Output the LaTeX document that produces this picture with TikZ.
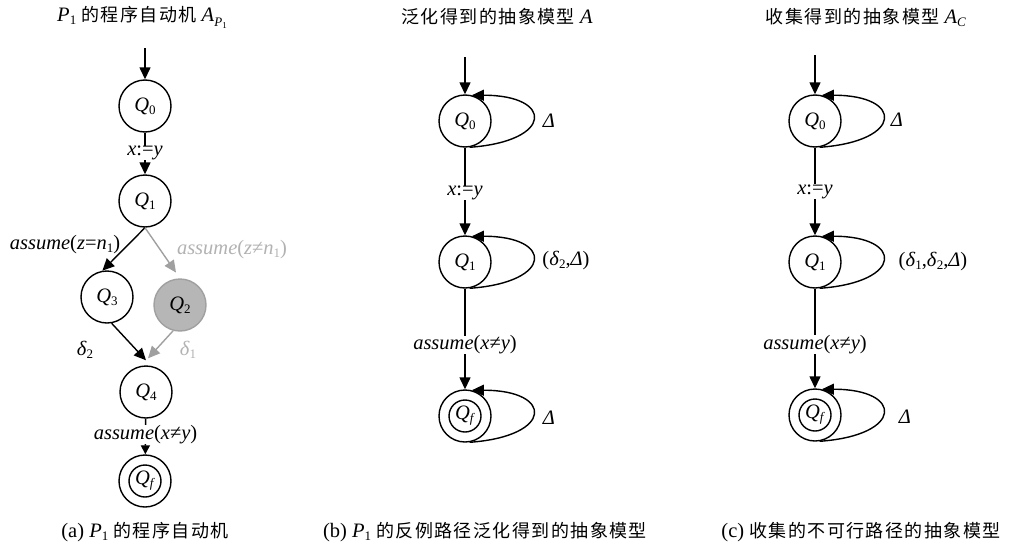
\documentclass[tikz,border=0pt]{standalone}
\usepackage{fontspec}
\setmainfont{Liberation Serif}
\newfontfamily\cjk[LetterSpace=8]{Noto Sans CJK SC}
\usetikzlibrary{arrows.meta,calc}
\newcommand\lo[1]{\raisebox{-3pt}{\fontsize{13}{13}\selectfont #1}}
\newcommand\Qn[1]{\textit{Q}\lo{#1}}
\newcommand\zh[1]{{\cjk\fontsize{18}{20}\selectfont #1}}
\definecolor{gline}{RGB}{160,160,160}
\definecolor{gfill}{RGB}{182,182,182}
\definecolor{gtext}{RGB}{178,178,178}
\begin{document}
\begin{tikzpicture}[x=1pt,y=-1pt,
  every node/.style={font=\fontsize{20.5}{23}\selectfont},
  state/.style={circle,draw,line width=1.4pt,minimum size=52pt,inner sep=0pt,fill=white},
  arr/.style={line width=1.4pt,-{Triangle[length=12pt,width=11pt]}},
  sarr/.style={line width=1.4pt,-{Triangle[length=9pt,width=9pt]}},
  plain/.style={line width=1.4pt},
  lab/.style={fill=white,inner sep=0pt},
  tx/.style={inner sep=0pt},
  grey/.style={draw=gline,text=gtext}]
\useasboundingbox (0,0) rectangle (1018,549);

% ---------------- (a) ----------------
\node[tx] (ta) at (142,17) {\textit{P}\lo{1} \zh{的程序自动机} \textit{A}\raisebox{-5pt}{\fontsize{13}{13}\selectfont\textit{P}\raisebox{-2pt}{\fontsize{9}{9}\selectfont 1}}};
\coordinate (ai) at (145,48);
\node[state] (aQ0) at (145,106) {\Qn{0}};
\node[state] (aQ1) at (145,201) {\Qn{1}};
\node[state] (aQ3) at (107,297) {\Qn{3}};
\node[state,draw=gline,fill=gfill] (aQ2) at (180,305) {\Qn{2}};
\node[state] (aQ4) at (146,392) {\Qn{4}};
\node[state] (aQf) at (145,481) {\Qn{\textit{f}}};
\draw[plain] (aQf.center) circle[radius=16pt];

\draw[arr] (ai) -- (aQ0);
\draw[arr] (aQ0) -- node[lab,pos=0.48] {\textit{x}:=\textit{y}} (aQ1);
\draw[arr] (aQ1.south) -- (aQ3.100);
\draw[arr,draw=gline,shorten >=7pt] (aQ1.south) -- (aQ2.north);
\draw[arr] (aQ3.-80) -- ([yshift=5pt]aQ4.north);
\draw[arr,draw=gline] (aQ2.-105) -- ([xshift=2pt,yshift=7pt]aQ4.north);
\draw[sarr] (aQ4) -- node[lab,pos=0.45] {\textit{assume}(\textit{x}≠\textit{y})} (aQf);

\node[tx] (lz1) at (65,245) {\textit{assume}(\textit{z}=\textit{n}\lo{1})};
\node[tx,text=gtext] (lz2) at (232,250) {\textit{assume}(\textit{z}≠\textit{n}\lo{1})};
\node[tx] (ld2) at (85,350) {\textit{δ}\lo{2}};
\node[tx,text=gtext] (ld1) at (188,350) {\textit{δ}\lo{1}};

\node[tx] (ca) at (145,532) {(a) \textit{P}\lo{1} \zh{的程序自动机}};

% ---------------- (b) ----------------
\node[tx] (tb) at (497,17) {\zh{泛化得到的抽象模型} \textit{A}};
\coordinate (bi) at (465,57);
\node[state] (bQ0) at (465,121) {\Qn{0}};
\node[state] (bQ1) at (465,262) {\Qn{1}};
\node[state] (bQf) at (465,416) {\Qn{\textit{f}}};
\draw[plain] (bQf.center) circle[radius=16pt];

\draw[arr] (bi) -- (bQ0);
\draw[arr] (bQ0) -- node[lab,pos=0.52] {\textit{x}:=\textit{y}} (bQ1);
\draw[arr] (bQ1) -- node[lab,pos=0.56] {\textit{assume}(\textit{x}≠\textit{y})} (bQf);
\draw[arr] (bQ0.-80) .. controls +(84,-6) and +(82,0) .. (bQ0.75);
\draw[arr] (bQ1.-80) .. controls +(84,-6) and +(82,0) .. (bQ1.75);
\draw[arr] (bQf.-80) .. controls +(84,-6) and +(82,0) .. (bQf.75);
\node[tx] (lb0) at (549,121) {\textit{Δ}};
\node[tx] (lb1) at (566,261) {(\textit{δ}\lo{2},\textit{Δ})};
\node[tx] (lbf) at (549,418) {\textit{Δ}};

\node[tx] (cb) at (485,532) {(b) \textit{P}\lo{1} \zh{的反例路径泛化得到的抽象模型}};

% ---------------- (c) ----------------
\node[tx] (tc) at (866,17) {\zh{收集得到的抽象模型} \textit{A}\lo{\textit{C}}};
\coordinate (ci) at (815,55);
\node[state] (cQ0) at (815,121) {\Qn{0}};
\node[state] (cQ1) at (815,262) {\Qn{1}};
\node[state] (cQf) at (815,415) {\Qn{\textit{f}}};
\draw[plain] (cQf.center) circle[radius=16pt];

\draw[arr] (ci) -- (cQ0);
\draw[arr] (cQ0) -- node[lab,pos=0.5] {\textit{x}:=\textit{y}} (cQ1);
\draw[arr] (cQ1) -- node[lab,pos=0.56] {\textit{assume}(\textit{x}≠\textit{y})} (cQf);
\draw[arr] (cQ0.-80) .. controls +(84,-6) and +(82,0) .. (cQ0.75);
\draw[arr] (cQ1.-80) .. controls +(84,-6) and +(82,0) .. (cQ1.75);
\draw[arr] (cQf.-80) .. controls +(84,-6) and +(82,0) .. (cQf.75);
\node[tx] (lc0) at (897,120) {\textit{Δ}};
\node[tx] (lc1) at (933,262) {(\textit{δ}\lo{1},\textit{δ}\lo{2},\textit{Δ})};
\node[tx] (lcf) at (905,417) {\textit{Δ}};

\node[tx] (cc) at (861,532) {(c) \zh{收集的不可行路径的抽象模型}};
\end{tikzpicture}
\end{document}
